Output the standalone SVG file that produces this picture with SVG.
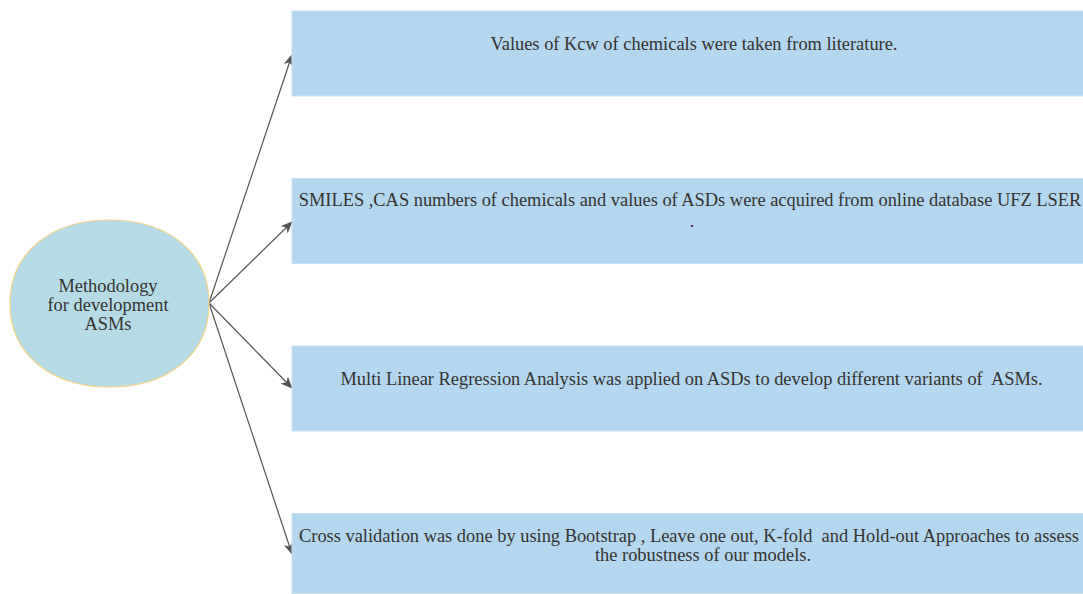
<svg xmlns="http://www.w3.org/2000/svg" width="1083" height="594" viewBox="0 0 1083 594">
<style>
.box{fill:#b3d7ee;stroke:#c6e2f3;stroke-width:1}
.t{font-family:"Liberation Serif","Times New Roman",serif;font-size:18.4px;fill:#333;text-anchor:middle;white-space:pre}
.c{stroke:#555;stroke-width:1.2;fill:none;marker-end:url(#ah)}
</style>
<defs>
<marker id="ah" markerWidth="12" markerHeight="10" refX="11" refY="5" orient="auto" markerUnits="userSpaceOnUse">
<path d="M0,0 L12,5 L0,10 L3,5 Z" fill="#555"/>
</marker>
</defs>
<rect width="1083" height="594" fill="#fff"/>
<g id="connectors">
<line class="c" x1="209" y1="303" x2="292" y2="55"/>
<line class="c" x1="209" y1="303" x2="292" y2="222"/>
<line class="c" x1="209" y1="303" x2="292" y2="388"/>
<line class="c" x1="209" y1="303" x2="292" y2="554"/>
</g>
<g id="center">
<path d="M10,303.5 C10,253.4 49.8,220 109.5,220 C169.2,220 209,253.4 209,303.5 C209,353.6 169.2,387 109.5,387 C49.8,387 10,353.6 10,303.5 Z" fill="#b5dce6" stroke="#f3d58f" stroke-width="1.2"/>
<text class="t" x="108" y="292">Methodology</text>
<text class="t" x="108" y="311">for development</text>
<text class="t" x="108" y="330">ASMs</text>
</g>
<g id="box1">
<rect class="box" x="292" y="11" width="800" height="85"/>
<text class="t" x="694" y="50">Values of Kcw of chemicals were taken from literature.</text>
</g>
<g id="box2">
<rect class="box" x="292" y="178.5" width="800" height="85"/>
<text class="t" x="690" y="206">SMILES ,CAS numbers of chemicals and values of ASDs were acquired from online database UFZ LSER</text>
<text class="t" x="692" y="227">.</text>
</g>
<g id="box3">
<rect class="box" x="292" y="346" width="800" height="85"/>
<text class="t" x="691.5" y="385" xml:space="preserve">Multi Linear Regression Analysis was applied on ASDs to develop different variants of  ASMs.</text>
</g>
<g id="box4">
<rect class="box" x="292" y="513.5" width="800" height="80"/>
<text class="t" x="689" y="542" xml:space="preserve">Cross validation was done by using Bootstrap , Leave one out, K-fold  and Hold-out Approaches to assess</text>
<text class="t" x="703" y="561">the robustness of our models.</text>
</g>
</svg>
